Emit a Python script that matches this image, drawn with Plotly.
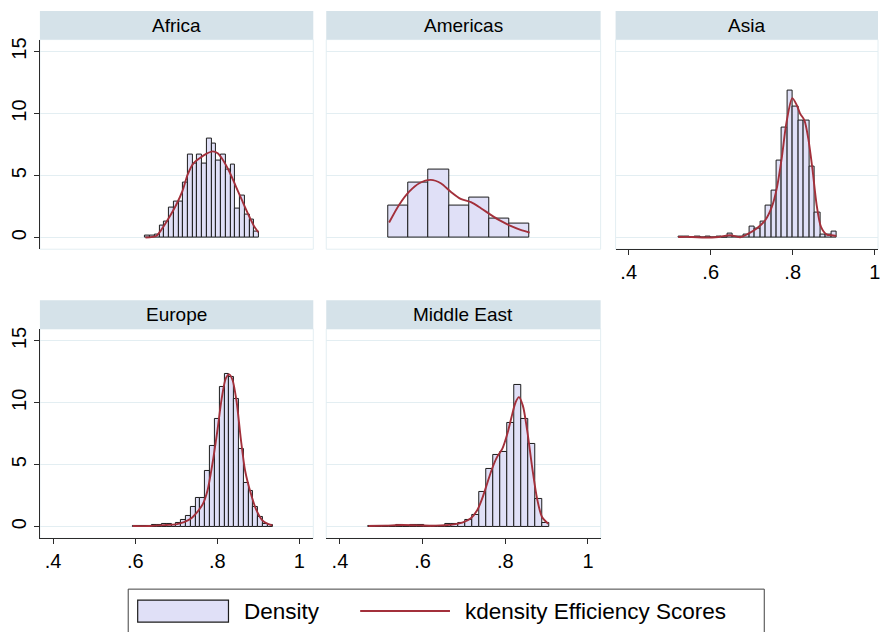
import plotly.graph_objects as go

W, H = 880, 632
FONT = "Liberation Sans, Arial, Helvetica, sans-serif"

REGIONS = ["Africa", "Americas", "Asia", "Europe", "Middle East"]

X_TICKS = [0.4, 0.6, 0.8, 1.0]
X_TICK_TEXT = [".4", ".6", ".8", "1"]
Y_TICKS = [0, 5, 10, 15]
Y_TICK_TEXT = ["0", "5", "10", "15"]

LEGEND_LABELS = ["Density", "kdensity Efficiency Scores"]

# Histogram bins: lower edge of the first bin, bin width, density per bin
AFRICA_BIN_START = 0.6245
AFRICA_BIN_WIDTH = 0.01155
AFRICA_DENSITY = [0.15, 0.15, 0.25, 1.0, 1.3, 2.4, 2.9, 2.9, 4.45, 6.7, 5.95, 6.7,
                  5.95, 8.0, 7.55, 6.2, 6.7, 5.5, 5.9, 2.35, 3.4, 1.85, 1.45, 0.5]

AMERICAS_BIN_START = 0.5175
AMERICAS_BIN_WIDTH = 0.0486
AMERICAS_DENSITY = [2.58, 4.4, 5.47, 2.58, 3.24, 1.52, 1.13]

ASIA_BIN_START = 0.521
ASIA_BIN_WIDTH = 0.01331
ASIA_DENSITY = [0.07, 0.07, 0.02, 0.05, 0.02, 0.05, 0.02, 0.05, 0.02, 0.3, 0.05, 0.1,
                0.25, 0.85, 0.75, 1.26, 2.55, 3.8, 6.24, 8.85, 11.85, 10.6, 9.45, 9.45,
                5.75, 2.0, 0.25, 0.25, 0.5]

EUROPE_BIN_START = 0.5944
EUROPE_BIN_WIDTH = 0.01174
EUROPE_DENSITY = [0.05, 0.05, 0.05, 0.05, 0.12, 0.12, 0.2, 0.2, 0.12, 0.3, 0.55, 0.9,
                  1.6, 2.35, 2.35, 4.5, 6.5, 8.7, 11.25, 12.35, 12.1, 10.3, 6.3, 3.56,
                  2.9, 1.6, 0.8, 0.25, 0.1]

MIDEAST_BIN_START = 0.469
MIDEAST_BIN_WIDTH = 0.01678
MIDEAST_DENSITY = [0.05, 0.05, 0.05, 0.05, 0.1, 0.05, 0.1, 0.1, 0.05, 0.05, 0.05, 0.24,
                   0.19, 0.32, 0.51, 0.95, 2.81, 4.65, 5.8, 6.05, 8.35, 11.46, 8.7, 6.68,
                   2.2, 0.32]

# Kernel density curves (efficiency score, density)
AFRICA_KDE_X = [0.625, 0.652, 0.664, 0.684, 0.700, 0.715, 0.728, 0.741, 0.757, 0.773,
                0.789, 0.801, 0.813, 0.829, 0.845, 0.861, 0.878, 0.890, 0.900]
AFRICA_KDE_Y = [0.0, 0.15, 0.65, 1.7, 2.65, 3.75, 5.1, 5.95, 6.4, 6.75,
                6.95, 6.8, 6.3, 5.35, 4.15, 2.95, 1.7, 0.9, 0.43]

AMERICAS_KDE_X = [0.519, 0.543, 0.5675, 0.592, 0.620, 0.644, 0.668, 0.692, 0.717,
                  0.741, 0.765, 0.789, 0.813, 0.837, 0.859]
AMERICAS_KDE_Y = [1.21, 2.63, 3.7, 4.38, 4.65, 4.38, 3.7, 3.12, 2.85,
                  2.37, 1.83, 1.34, 0.94, 0.62, 0.4]

ASIA_KDE_X = [0.521, 0.554, 0.586, 0.619, 0.647, 0.672, 0.692, 0.712, 0.733, 0.749,
              0.761, 0.773, 0.785, 0.799, 0.810, 0.818, 0.8285, 0.838, 0.848, 0.8585,
              0.869, 0.883, 0.895, 0.906]
ASIA_KDE_Y = [0.05, 0.05, 0.0, 0.05, 0.19, 0.03, 0.32, 0.73, 1.4, 2.47,
              3.95, 6.37, 9.33, 11.25, 10.67, 10.0, 9.46, 7.98, 5.56, 2.6,
              0.86, 0.24, 0.19, 0.13]

EUROPE_KDE_X = [0.594, 0.634, 0.675, 0.699, 0.719, 0.735, 0.751, 0.765, 0.776, 0.788,
                0.800, 0.811, 0.821, 0.829, 0.837, 0.847, 0.857, 0.868, 0.882, 0.894,
                0.910, 0.922, 0.934]
EUROPE_KDE_Y = [0.05, 0.05, 0.13, 0.19, 0.37, 0.64, 1.18, 1.84, 2.9, 5.05,
                7.7, 10.4, 12.0, 12.3, 11.87, 10.13, 7.2, 4.5, 2.65, 1.44,
                0.5, 0.24, 0.1]

MIDEAST_KDE_X = [0.469, 0.511, 0.551, 0.591, 0.632, 0.672, 0.696, 0.716, 0.732, 0.744,
                 0.756, 0.768, 0.780, 0.793, 0.805, 0.815, 0.825, 0.833, 0.8425, 0.853,
                 0.865, 0.877, 0.889, 0.904]
MIDEAST_KDE_Y = [0.05, 0.08, 0.13, 0.1, 0.08, 0.16, 0.32, 0.65, 1.32, 2.26,
                 3.47, 4.68, 5.62, 6.3, 7.5, 8.84, 10.05, 10.46, 9.78, 7.77,
                 4.81, 2.26, 0.78, 0.24]

HISTS = [
    (AFRICA_BIN_START, AFRICA_BIN_WIDTH, AFRICA_DENSITY, AFRICA_KDE_X, AFRICA_KDE_Y),
    (AMERICAS_BIN_START, AMERICAS_BIN_WIDTH, AMERICAS_DENSITY, AMERICAS_KDE_X, AMERICAS_KDE_Y),
    (ASIA_BIN_START, ASIA_BIN_WIDTH, ASIA_DENSITY, ASIA_KDE_X, ASIA_KDE_Y),
    (EUROPE_BIN_START, EUROPE_BIN_WIDTH, EUROPE_DENSITY, EUROPE_KDE_X, EUROPE_KDE_Y),
    (MIDEAST_BIN_START, MIDEAST_BIN_WIDTH, MIDEAST_DENSITY, MIDEAST_KDE_X, MIDEAST_KDE_Y),
]

# ---- styling ----
BAR_FILL = "#e0e0f7"
BAR_EDGE = "#1c1c1c"
KDE_COLOR = "#a3303b"
STRIP_FILL = "#d5e2e9"
GRID_COLOR = "#e3eef2"
AXIS_COLOR = "#2b2b2b"
TICK_SIZE = 20

# panel geometry in pixels: (left, right) for columns, (top, bottom) for rows
COLS = [(40, 314), (327, 602), (617, 880)]
ROWS = [(37.7, 248), (328, 538)]
STRIP_H = 28.7
X_RANGES = [[0.3677, 1.034], [0.3669, 1.0307], [0.368, 1.008]]
Y_RANGE = [-0.94, 15.97]

# (row, col, show y axis, show x axis) for each region
PANELS = [(0, 0, True, False), (0, 1, False, False), (0, 2, False, True),
          (1, 0, True, True), (1, 1, False, True)]


def px(x):
    return x / W


def py(y):
    return 1 - y / H


fig = go.Figure()
layout = dict(
    width=W, height=H,
    margin=dict(l=0, r=0, t=0, b=0),
    paper_bgcolor="white", plot_bgcolor="white",
    showlegend=False, bargap=0,
    font=dict(family=FONT, color="black"),
)
shapes = []
annotations = []

for i, (name, (r, c, show_y, show_x), hist) in enumerate(zip(REGIONS, PANELS, HISTS)):
    start, width, dens, kx, ky = hist
    n = i + 1
    xa = "x" if n == 1 else f"x{n}"
    ya = "y" if n == 1 else f"y{n}"
    centers = [start + (k + 0.5) * width for k in range(len(dens))]

    fig.add_trace(go.Bar(
        x=centers, y=dens, width=width, xaxis=xa, yaxis=ya,
        marker=dict(color=BAR_FILL, line=dict(color=BAR_EDGE, width=1)),
        hoverinfo="skip",
    ))
    fig.add_trace(go.Scatter(
        x=kx, y=ky, xaxis=xa, yaxis=ya, mode="lines",
        line=dict(color=KDE_COLOR, width=1.9, shape="spline", smoothing=0.8),
        hoverinfo="skip",
    ))

    left, right = COLS[c]
    top, bottom = ROWS[r]
    layout["xaxis" if n == 1 else f"xaxis{n}"] = dict(
        domain=[px(left), px(right)], range=X_RANGES[c], anchor=ya,
        showgrid=False, zeroline=False,
        showline=show_x, linecolor=AXIS_COLOR, linewidth=1,
        ticks="outside" if show_x else "", ticklen=5, tickcolor=AXIS_COLOR, tickwidth=1,
        tickvals=X_TICKS, ticktext=X_TICK_TEXT, showticklabels=show_x,
        ticklabeloverflow="allow",
        tickfont=dict(size=TICK_SIZE, family=FONT, color="black"), fixedrange=True,
    )
    layout["yaxis" if n == 1 else f"yaxis{n}"] = dict(
        domain=[py(bottom), py(top)], range=Y_RANGE, anchor=xa,
        showgrid=True, gridcolor=GRID_COLOR, gridwidth=1, zeroline=False,
        showline=show_y, linecolor=AXIS_COLOR, linewidth=1,
        ticks="outside" if show_y else "", ticklen=5, tickcolor=AXIS_COLOR, tickwidth=1,
        tickvals=Y_TICKS, ticktext=Y_TICK_TEXT, showticklabels=show_y, tickangle=-90,
        tickfont=dict(size=TICK_SIZE, family=FONT, color="black"), fixedrange=True,
    )

    # plot-region outline
    shapes.append(dict(type="rect", xref="paper", yref="paper", layer="below",
                       x0=px(left), x1=px(right), y0=py(bottom), y1=py(top),
                       line=dict(color=GRID_COLOR, width=1), fillcolor="rgba(0,0,0,0)"))
    # title strip
    shapes.append(dict(type="rect", xref="paper", yref="paper",
                       x0=px(left), x1=px(right), y0=py(top), y1=py(top - STRIP_H),
                       line=dict(width=0), fillcolor=STRIP_FILL))
    annotations.append(dict(text=name, xref="paper", yref="paper",
                            x=px((left + right) / 2), y=py(top - STRIP_H / 2),
                            xanchor="center", yanchor="middle", showarrow=False,
                            font=dict(size=19, family=FONT, color="black")))

# legend box with a bar swatch and a line sample
shapes.append(dict(type="rect", xref="paper", yref="paper",
                   x0=px(128.5), x1=px(766), y0=py(645), y1=py(589),
                   line=dict(color="#404040", width=1), fillcolor="white"))
shapes.append(dict(type="rect", xref="paper", yref="paper",
                   x0=px(138), x1=px(229), y0=py(622), y1=py(600),
                   line=dict(color=BAR_EDGE, width=1.2), fillcolor=BAR_FILL))
shapes.append(dict(type="line", xref="paper", yref="paper",
                   x0=px(361), x1=px(451), y0=py(611), y1=py(611),
                   line=dict(color=KDE_COLOR, width=1.9)))
annotations.append(dict(text=LEGEND_LABELS[0], xref="paper", yref="paper",
                        x=px(243), y=py(611), xanchor="left", yanchor="middle",
                        showarrow=False, font=dict(size=22.5, family=FONT, color="black")))
annotations.append(dict(text=LEGEND_LABELS[1], xref="paper", yref="paper",
                        x=px(464), y=py(611), xanchor="left", yanchor="middle",
                        showarrow=False, font=dict(size=22.5, family=FONT, color="black")))

layout["shapes"] = shapes
layout["annotations"] = annotations
fig.update_layout(**layout)

fig.write_html("out.html", config={"displayModeBar": False})
